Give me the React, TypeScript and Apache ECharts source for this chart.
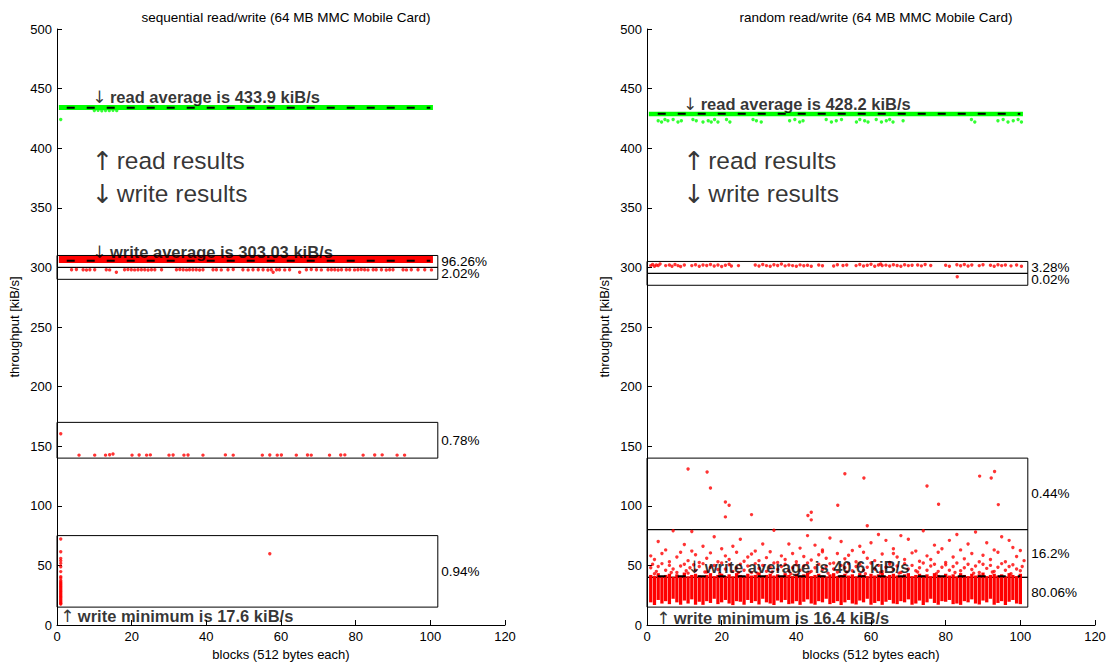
import React, { useEffect, useRef } from "react";
import * as echarts from "echarts";

const FONT = "'Liberation Sans', Arial, Helvetica, sans-serif";
const ARROW_FONT = "'DejaVu Sans', 'Liberation Sans', sans-serif";

const chartTitles = [
  "sequential read/write (64 MB MMC Mobile Card)",
  "random read/write (64 MB MMC Mobile Card)",
];
const xAxisName = "blocks (512 bytes each)";
const yAxisName = "throughput [kiB/s]";

// ---------- sequential ----------
const seqReadBand = [[0.5, 434.2], [100.7, 434.2]];
const seqReadAvg = [[1, 433.9], [100, 433.9]];
const seqReadPoints = [
  [1, 424], [10, 431.6], [11, 431.9], [12, 431.4], [13, 431.7], [14, 431.5], [15, 431.8], [16, 431.5],
];
const seqWriteBand = [[0.5, 306.6], [100.7, 306.6]];
const seqWriteAvg = [[1, 305.5], [100, 305.5]];
const seqWrite298 = [
  [3.9, 298], [5.2, 298.2], [7, 298], [7.9, 297.8], [8.8, 298], [10.1, 298.1], [13.2, 298], [14.1, 297.9],
  [15.9, 296], [18.1, 298], [19, 298.2], [19.9, 298], [20.8, 297.9], [21.7, 298], [22.6, 298.1], [23.5, 298],
  [24.4, 297.8], [25.3, 298], [26.2, 298.1], [28, 298], [32, 298], [32.9, 298.2], [33.8, 298], [34.7, 297.9],
  [35.5, 298], [36.4, 298.1], [37.3, 298], [38.2, 297.8], [39.1, 298], [41.8, 298.1], [42.7, 298], [44, 297.9],
  [45.8, 298], [47.2, 298.2], [49.8, 298], [51.2, 297.9], [52.5, 298], [53.9, 298.1], [55.2, 298], [56.5, 297.8],
  [57.4, 298], [57.9, 296], [58.8, 298.1], [59.6, 298], [61, 297.9], [62.3, 298], [65, 296], [66.8, 298],
  [68.1, 298.2], [69.5, 298], [70.8, 297.9], [72.6, 298], [73.5, 298.1], [74.4, 298], [75.3, 297.8], [76.2, 298],
  [77.5, 298.1], [78.4, 298], [79.7, 297.9], [80.6, 298], [81.5, 298.2], [82.4, 298], [83.3, 297.9], [84.7, 298],
  [85.5, 298.1], [86.9, 298], [88.2, 297.8], [89.1, 298], [90, 298.1], [92.7, 298], [93.6, 297.9], [94.9, 298],
  [96.7, 298.1], [98.5, 298], [100.3, 297.9],
];
const seqWrite143 = [
  [1, 160.5], [5.9, 142.5], [10.1, 142.5], [13, 142.5], [14.1, 142.8], [15, 143.5], [20.1, 142.5], [22, 142.6],
  [24, 142.5], [25, 142.7], [30, 142.5], [31.1, 142.6], [34, 142.5], [35.1, 142.6], [39.1, 142.5], [45.1, 142.7],
  [47.2, 142.5], [55, 142.5], [57, 142.6], [59, 142.5], [60.1, 142.6], [64.1, 142.5], [67.1, 142.6], [68.1, 142.5],
  [73, 142.5], [76, 142.6], [77.1, 142.7], [82, 142.5], [85.1, 142.6], [87.1, 142.7], [91.1, 142.5], [93.1, 142.5],
];
const seqWriteLow = [
  [1, 72.1], [1, 61.5], [1, 55.9], [1, 54], [1, 51.7], [1, 48.9], [1, 44.8], [1, 40.6], [1, 39.5], [1, 37.3],
  [1, 36], [1, 35], [1, 34], [1, 33], [1, 32], [1, 31], [1, 30], [1, 29], [1, 28], [1, 27], [1, 26], [1, 25],
  [1, 24], [1, 23], [1, 22], [1, 21], [1, 20], [1, 19], [1, 18], [1, 17.6], [57, 59.8],
];
const seqBoxes = [
  { lo: 300, hi: 310, label: "96.26%" },
  { lo: 290, hi: 300, label: "2.02%" },
  { lo: 140, hi: 170, label: "0.78%" },
  { lo: 15, hi: 75, label: "0.94%" },
];
const boxXMax = 102;

// ---------- random ----------
const rndReadBand = [[0.5, 428.6], [100.7, 428.6]];
const rndReadAvg = [[1, 428.8], [100, 428.8]];
const rndReadPoints = [
  [3, 423], [3.9, 422], [4.8, 424], [5.6, 423], [7, 424], [8.3, 422], [9.2, 423], [12.3, 424], [13.2, 423],
  [15, 422], [16.4, 423], [17.2, 422], [18.1, 424], [19, 422], [21.3, 424], [22.2, 422], [28.4, 424], [29.3, 423],
  [30.6, 422], [38.2, 423], [39.6, 424], [40.9, 422], [41.8, 423], [48, 424], [49.4, 422], [50.7, 423], [52.1, 424],
  [56.1, 422], [57, 424], [58.3, 423], [59.2, 422], [61.4, 424], [62.8, 422], [64.1, 423], [65, 424], [65.9, 422],
  [68.6, 423], [86.9, 424], [87.8, 422], [94, 423], [95.4, 424], [96.7, 422], [98.1, 423], [99.4, 424], [100.3, 422],
];
const rndWrite300 = [
  [1, 301.5], [1.5, 302.5], [2, 301], [2.5, 302], [3, 301.5], [3.5, 302.8], [5, 301.5], [6, 302], [6.7, 301],
  [7.5, 302.5], [8.3, 301.5], [9, 300.8], [10, 302], [12, 301.5], [13, 302.3], [14, 301], [15, 302], [16, 301.6],
  [17, 302.5], [18, 301.2], [19, 302], [20, 300.8], [21, 301.8], [22, 302.6], [22.6, 301.2], [24.5, 301.5],
  [29, 302], [30, 301.2], [31, 302.5], [32, 301.5], [33, 301], [34, 302.2], [35, 301.6], [36, 302.8], [37, 301.3],
  [38, 302], [39, 301.5], [40, 300.9], [41, 302.1], [42, 301.4], [43, 301.8], [44, 301], [46, 302], [47, 301.4],
  [50, 301.2], [51, 302.3], [52.5, 301.6], [53.5, 302], [56, 301.5], [57, 302.4], [58, 301.2], [59, 301.8],
  [60, 302.6], [61, 301], [62, 302], [62.6, 302.9], [63, 301.5], [64, 301.9], [65, 301.2], [66, 302.2], [67, 301.6],
  [68, 301], [69, 302.3], [70, 301.5], [71, 301.8], [72.5, 302], [73.5, 301.3], [74.5, 302.4], [76, 301.6],
  [80, 301.8], [81, 301], [83, 302.2], [84, 301.4], [85, 302.5], [86, 301.2], [87, 302], [89, 301.5], [90, 302.3],
  [92, 301.8], [93, 301], [94, 302.2], [95, 301.5], [96, 302], [97.5, 301.3], [99, 302], [100.3, 301],
  [83.1, 292.2],
];
const rndWriteHigh = [
  [11, 130.8], [16.1, 128.3], [17, 114.9], [21, 103.2], [22, 100.4], [21, 90.7], [28, 92.6], [43.1, 91.8],
  [44, 94.6], [44, 88.2], [51.1, 100.4], [53, 126.9], [58.1, 123.3], [59, 83.2], [75, 116.6], [78.1, 101.3],
  [89.1, 124.9], [92.2, 123.3], [93.1, 128.8], [94.1, 101],
];
const rndWriteMid = [
  [7, 79], [12, 78.5], [25, 72], [3, 70], [15, 66], [20, 64], [34, 79.5], [38, 68], [43, 75], [47, 63], [52, 70],
  [57, 66], [62, 76], [66, 64], [70, 72], [74, 79], [77, 67], [81, 71], [84, 63], [88, 78], [91, 69], [95, 74],
  [98, 65], [100, 62.5], [5, 63], [10, 67.5], [18, 74], [29, 62], [31, 68], [41, 64.5], [49, 73], [55, 62.5],
  [60, 69], [64, 71], [72, 62], [79, 64], [86, 68], [93, 63], [97, 71], [23, 66], [45, 67], [68, 75], [83, 76],
  [1, 58], [2, 55], [4, 60], [6, 53], [8, 57], [9, 61], [11, 54], [13, 59], [14, 52.5], [16, 56], [17, 60.5],
  [19, 53], [21, 58], [22, 55], [24, 61], [26, 53.5], [27, 57], [28, 59.5], [30, 54], [32, 56.5], [33, 61.5],
  [35, 52.5], [36, 58], [37, 55], [39, 60], [40, 53], [42, 57.5], [44, 54.5], [46, 59], [48, 56], [50, 52],
  [51, 60], [53, 55.5], [54, 58.5], [56, 53], [58, 61], [59, 56], [61, 54], [63, 59.5], [65, 52.5], [67, 57],
  [69, 55], [71, 60.5], [73, 53.5], [75, 58], [76, 55], [78, 61], [80, 52.5], [82, 57], [85, 55.5], [87, 60],
  [89, 53], [90, 58.5], [92, 55], [94, 61], [96, 53], [99, 57.5], [101, 54], [12, 62], [47, 61.5], [66, 60],
  [1, 48], [1.5, 51], [2.5, 45], [3, 49], [4, 51.5], [5, 46], [6, 50], [7, 47], [8, 44], [9, 49.5], [10, 51],
  [10.5, 45.5], [11.5, 48], [12.5, 50.5], [13, 46], [14, 49], [15, 51.5], [16, 44.5], [17, 48.5], [18, 50],
  [19, 46.5], [20, 52], [21, 47], [22, 50.5], [23, 45], [24, 48], [25, 51], [26, 46], [27, 49.5], [28, 44],
  [29, 51.5], [30, 47.5], [31, 50], [32, 45], [33, 48.5], [34, 52], [35, 46.5], [36, 49], [37, 51], [38, 45.5],
  [39, 48], [40, 50.5], [41, 46], [42, 49.5], [43, 52], [44, 45], [45, 48], [46, 51], [47, 46.5], [48, 49],
  [49, 51.5], [50, 47], [51, 44.5], [52, 50], [53, 48], [54, 51.5], [55, 45.5], [56, 49], [57, 51], [58, 46],
  [59, 48.5], [60, 52], [61, 47], [62, 50], [63, 45], [64, 48.5], [65, 51], [66, 46.5], [67, 49.5], [68, 44],
  [69, 51.5], [70, 47], [71, 50], [72, 45.5], [73, 48], [74, 52], [75, 46], [76, 49.5], [77, 51], [78, 45],
  [79, 48.5], [80, 50.5], [81, 46], [82, 49], [83, 52], [84, 45.5], [85, 48], [86, 51], [87, 46.5], [88, 49.5],
  [89, 44], [90, 51], [91, 47.5], [92, 50], [93, 45], [94, 48.5], [95, 51.5], [96, 46], [97, 49], [98, 50.5],
  [99, 47], [100, 45.5], [100.5, 49],
  [2, 43], [6.5, 44], [11, 43.5], [15.5, 44.5], [19.5, 43], [24.5, 44], [29.5, 43.5], [33.5, 44.5], [38.5, 43],
  [43.5, 44], [48.5, 43.5], [53.5, 44.5], [58.5, 43], [62.5, 44], [67.5, 43.5], [72.5, 44.5], [77.5, 43],
  [82.5, 44], [87.5, 43.5], [92.5, 44.5], [97.5, 43],
];
// dense core of random writes: per block column, lowest and highest value
const rndCoreLow = [
  19, 16.8, 21, 18, 20, 17.5, 22, 19, 17, 20.5, 18, 21.5, 17, 19.5, 16.9, 20, 18.5, 22, 17.5, 19,
  21, 18, 16.7, 20, 19.5, 17, 21, 18.5, 20, 17.2, 22, 19, 18, 16.8, 20.5, 19, 21, 17.5, 18, 20,
  16.9, 19.5, 21.5, 18, 17, 20, 19, 22, 17.5, 18.5, 20, 16.8, 19, 21, 18, 17.2, 20.5, 19, 22, 17,
  18.5, 20, 16.9, 19.5, 21, 18, 17.5, 20, 19, 21.5, 17, 18, 20.5, 16.8, 19, 22, 18.5, 17, 20, 19.5,
  21, 17.5, 18, 16.9, 20, 19, 21.5, 18, 17.2, 20.5, 19, 22, 17, 18.5, 20, 16.8, 19.5, 21, 18, 17.5,
];
const rndCoreHigh = [
  42, 41, 43.5, 40.5, 42, 43, 40.5, 42.5, 41, 44, 40.8, 42, 43, 41.5, 40.5, 42, 43.5, 41, 42, 43,
  41, 42.5, 40.8, 43.5, 42, 41, 43, 41.5, 42, 44, 41, 42, 43, 41.5, 42.5, 40.6, 43.5, 42, 41, 43,
  41.5, 42.5, 44, 41, 42, 43, 41.5, 40.7, 42.5, 43.5, 41, 42, 43, 41.5, 42.5, 40.8, 43.5, 42, 41, 43,
  41.5, 42.5, 44, 41, 42, 43, 41.5, 40.6, 42.5, 43.5, 41, 42, 43, 41.5, 42.5, 41, 43.5, 42, 41, 43,
  41.5, 42.5, 40.7, 43.5, 42, 41, 43, 41.5, 42.5, 44, 41, 42, 43, 41.5, 42.5, 40.8, 43.5, 42, 41, 43,
];
const rndWriteAvg = [[1, 40.9], [100, 40.9]];
const rndBoxes = [
  { lo: 295, hi: 305, label: "3.28%" },
  { lo: 285, hi: 295, label: "0.02%" },
  { lo: 80, hi: 140, label: "0.44%" },
  { lo: 40, hi: 80, label: "16.2%" },
  { lo: 15, hi: 40, label: "80.06%" },
];

// annotations
const seqNotes = [
  { x: 9.6, y: 442.5, arrow: "↓", text: "read average is 433.9 kiB/s", big: false },
  { x: 9.4, y: 389, arrow: "↑", text: "read results", big: true },
  { x: 9.4, y: 361.5, arrow: "↓", text: "write results", big: true },
  { x: 9.6, y: 312.5, arrow: "↓", text: "write average is 303.03 kiB/s", big: false },
  { x: 1.0, y: 6.8, arrow: "↑", text: "write minimum is 17.6 kiB/s", big: false },
];
const rndNotes = [
  { x: 9.8, y: 437, arrow: "↓", text: "read average is 428.2 kiB/s", big: false },
  { x: 9.8, y: 389, arrow: "↑", text: "read results", big: true },
  { x: 9.8, y: 361.5, arrow: "↓", text: "write results", big: true },
  { x: 10.9, y: 48.3, arrow: "↓", text: "write average is 40.6 kiB/s", big: false },
  { x: 2.6, y: 5.3, arrow: "↑", text: "write minimum is 16.4 kiB/s", big: false },
];

const RED = "#ff0000";
const GREEN = "#00ff00";

function dots(data: number[][], color: string, gi: number) {
  return {
    type: "scatter",
    xAxisIndex: gi,
    yAxisIndex: gi,
    data,
    symbol: "circle",
    symbolSize: 3.4,
    itemStyle: { color },
    z: 2,
    silent: true,
  };
}
function band(data: number[][], color: string, width: number, gi: number) {
  return {
    type: "line",
    xAxisIndex: gi,
    yAxisIndex: gi,
    data,
    symbol: "none",
    lineStyle: { color, width, cap: "butt" },
    z: 2,
    silent: true,
  };
}
function avgLine(data: number[][], gi: number, offset: number) {
  return {
    type: "line",
    xAxisIndex: gi,
    yAxisIndex: gi,
    data,
    symbol: "none",
    lineStyle: { color: "#000", width: 2, type: [8, 12], dashOffset: offset, cap: "butt" },
    z: 4,
    silent: true,
  };
}
function boxes(list: { lo: number; hi: number; label: string }[], gi: number) {
  return {
    type: "scatter",
    xAxisIndex: gi,
    yAxisIndex: gi,
    data: [[0, -10]],
    symbolSize: 0,
    z: 3,
    silent: true,
    markArea: {
      silent: true,
      itemStyle: { color: "rgba(0,0,0,0)", borderColor: "#000", borderWidth: 1 },
      label: { show: true, position: "right", distance: 3, color: "#000", fontSize: 13.5, fontFamily: FONT },
      data: list.map((b) => [
        { xAxis: 0, yAxis: b.lo, name: b.label },
        { xAxis: boxXMax, yAxis: b.hi },
      ]),
    },
  };
}
function notes(list: typeof seqNotes, gi: number) {
  return list.map((n) => ({
    type: "scatter",
    xAxisIndex: gi,
    yAxisIndex: gi,
    data: [[n.x, n.y]],
    symbolSize: 1,
    itemStyle: { color: "rgba(0,0,0,0)" },
    z: 6,
    silent: true,
    label: {
      show: true,
      position: [0, 0],
      align: "left",
      verticalAlign: "middle",
      formatter: n.big ? `{d|${n.arrow}} {a|${n.text}}` : `{b|${n.arrow}} {c|${n.text}}`,
      rich: {
        a: { fontSize: 24.5, fontFamily: FONT, color: "#000" },
        d: { fontSize: 26, fontFamily: ARROW_FONT, color: "#000" },
        b: { fontSize: 17, fontFamily: ARROW_FONT, color: "#000" },
        c: { fontSize: 16.5, fontFamily: FONT, fontWeight: "bold", color: "#000" },
      },
    },
  }));
}

const grids = [
  { left: 57, top: 29, width: 448, height: 599 },
  { left: 647, top: 29, width: 448, height: 599 },
];

export default function App() {
  const ref = useRef<HTMLDivElement>(null);
  useEffect(() => {
    if (!ref.current) return;
    const chart = echarts.init(ref.current, undefined, { renderer: "svg" });
    const axisText = { color: "#000", fontSize: 13, fontFamily: FONT };
    const xAxes = grids.map((_, i) => ({
      type: "value",
      gridIndex: i,
      min: 0,
      max: 120,
      interval: 20,
      name: xAxisName,
      nameLocation: "middle",
      nameGap: 23,
      nameTextStyle: { color: "#000", fontSize: 13, fontFamily: FONT },
      axisLine: { show: true, lineStyle: { color: "#000", width: 1 } },
      axisTick: { show: true, inside: true, length: 5, lineStyle: { color: "#000" } },
      axisLabel: { ...axisText, margin: 5 },
      splitLine: { show: false },
    }));
    const yAxes = grids.map((_, i) => ({
      type: "value",
      gridIndex: i,
      min: 0,
      max: 500,
      interval: 50,
      name: yAxisName,
      nameLocation: "middle",
      nameGap: 36,
      nameTextStyle: { color: "#000", fontSize: 13, fontFamily: FONT },
      axisLine: { show: true, lineStyle: { color: "#000", width: 1 } },
      axisTick: { show: true, inside: true, length: 5, lineStyle: { color: "#000" } },
      axisLabel: { ...axisText, margin: 5 },
      splitLine: { show: false },
    }));
    const coreData = rndCoreLow.map((lo, i) => [i + 1, lo, rndCoreHigh[i]]);
    const series: any[] = [
      band(seqReadBand, GREEN, 5, 0),
      dots(seqReadPoints, GREEN, 0),
      band(seqWriteBand, RED, 7, 0),
      dots(seqWrite298, RED, 0),
      dots(seqWrite143, RED, 0),
      dots(seqWriteLow, RED, 0),
      avgLine(seqReadAvg, 0, 14),
      avgLine(seqWriteAvg, 0, 14),
      boxes(seqBoxes, 0),
      ...notes(seqNotes, 0),
      band(rndReadBand, GREEN, 4.5, 1),
      dots(rndReadPoints, GREEN, 1),
      dots(rndWrite300, RED, 1),
      dots(rndWriteHigh, RED, 1),
      dots(rndWriteMid, RED, 1),
      {
        type: "custom",
        xAxisIndex: 1,
        yAxisIndex: 1,
        data: coreData,
        z: 2,
        silent: true,
        renderItem: (params: any, api: any) => {
          const x = api.value(0);
          const top = api.coord([x, api.value(2)]);
          const bot = api.coord([x, api.value(1)]);
          const w = api.size([1, 0])[0] * 0.88;
          return {
            type: "rect",
            shape: { x: top[0] - w / 2, y: top[1], width: w, height: bot[1] - top[1] },
            style: { fill: RED },
          };
        },
      },
      avgLine(rndReadAvg, 1, 13),
      avgLine(rndWriteAvg, 1, 13),
      boxes(rndBoxes, 1),
      ...notes(rndNotes, 1),
    ];
    chart.setOption({
      animation: false,
      backgroundColor: "#fff",
      textStyle: { fontFamily: FONT },
      title: chartTitles.map((t, i) => ({
        text: t,
        left: grids[i].left + grids[i].width / 2,
        top: 5,
        textAlign: "center",
        textStyle: { fontSize: 13.5, fontWeight: "normal", color: "#000", fontFamily: FONT },
      })),
      grid: grids,
      xAxis: xAxes,
      yAxis: yAxes,
      series,
    });
    return () => chart.dispose();
  }, []);
  return (
    <div
      ref={ref}
      style={{ position: "absolute", left: 0, top: 0, width: 1109, height: 666, background: "#fff" }}
    />
  );
}
